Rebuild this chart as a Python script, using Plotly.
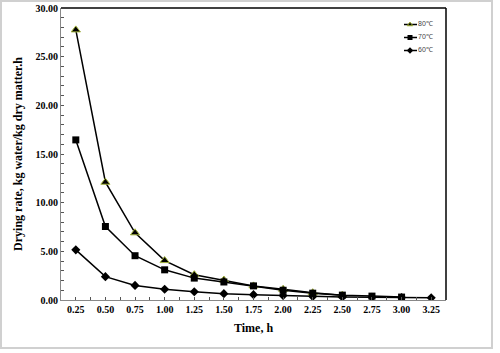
import plotly.graph_objects as go

time_80 = [0.25, 0.50, 0.75, 1.00, 1.25, 1.50, 1.75, 2.00, 2.25, 2.50]
rate_80 = [27.75, 12.10, 6.90, 4.05, 2.60, 2.05, 1.45, 1.10, 0.75, 0.50]

time_70 = [0.25, 0.50, 0.75, 1.00, 1.25, 1.50, 1.75, 2.00, 2.25, 2.50, 2.75, 3.00]
rate_70 = [16.45, 7.55, 4.55, 3.10, 2.25, 1.85, 1.45, 1.00, 0.70, 0.50, 0.40, 0.30]

time_60 = [0.25, 0.50, 0.75, 1.00, 1.25, 1.50, 1.75, 2.00, 2.25, 2.50, 2.75, 3.00, 3.25]
rate_60 = [5.15, 2.40, 1.50, 1.10, 0.85, 0.65, 0.55, 0.45, 0.35, 0.30, 0.28, 0.25, 0.22]

x_ticks = [0.25, 0.50, 0.75, 1.00, 1.25, 1.50, 1.75, 2.00, 2.25, 2.50, 2.75, 3.00, 3.25]
series_names = ["80℃", "70℃", "60℃"]

serif = "Liberation Serif, Times New Roman, serif"

styles = [
    dict(symbol="triangle-up", size=8, color="black", line=dict(color="#a4b43c", width=1)),
    dict(symbol="square", size=7, color="black"),
    dict(symbol="diamond", size=7, color="black"),
]
legend_styles = [
    dict(symbol="triangle-up", size=5, color="black", line=dict(color="#a4b43c", width=1)),
    dict(symbol="square", size=5, color="black"),
    dict(symbol="diamond", size=5, color="black"),
]

fig = go.Figure()
for xs, ys, name, st in zip([time_80, time_70, time_60], [rate_80, rate_70, rate_60],
                            series_names, styles):
    fig.add_trace(go.Scatter(
        x=xs, y=ys, name=name, mode="lines+markers",
        line=dict(color="black", width=1.5), marker=st, showlegend=False))

# plot area pixels: x 61..446, y 8..300
L, R, T, B = 61, 446, 8, 300
W, H = R - L, B - T
def px(p):
    return (p - L) / W
def py(p):
    return (B - p) / H

# manual legend on an overlay axis measured in pixels
leg_y = [24.5, 37.5, 50.5]
for yy, name, st in zip(leg_y, series_names, legend_styles):
    fig.add_trace(go.Scatter(
        x=[404, 410, 417], y=[yy, yy, yy], mode="lines", xaxis="x2", yaxis="y2",
        line=dict(color="black", width=1.5), showlegend=False, hoverinfo="skip"))
    fig.add_trace(go.Scatter(
        x=[410], y=[yy], mode="markers", xaxis="x2", yaxis="y2",
        marker=st, showlegend=False, hoverinfo="skip"))
    fig.add_trace(go.Scatter(
        x=[418], y=[yy], mode="text", xaxis="x2", yaxis="y2",
        text=[name], textposition="middle right",
        textfont=dict(family="Liberation Sans, Arial, sans-serif", size=7, color="#444"),
        showlegend=False, hoverinfo="skip"))

fig.update_layout(
    width=500, height=353,
    margin=dict(l=L, r=500 - R, t=T, b=353 - B, autoexpand=False),
    paper_bgcolor="white", plot_bgcolor="white",
    showlegend=False,
    xaxis=dict(
        range=[0.125, 3.375], tickvals=x_ticks, ticktext=[f"{v:.2f}" for v in x_ticks],
        ticks="inside", ticklen=3, tickcolor="#555", automargin=False,
        minor=dict(dtick=0.125, tick0=0.125, ticks="inside", ticklen=3, tickcolor="#555"),
        showgrid=False, zeroline=False, showline=True, linecolor="#888", linewidth=1,
        tickfont=dict(family=serif, size=10, color="black", weight="bold"),
        title=dict(text="<b>Time, h</b>", font=dict(family=serif, size=12, color="black"), standoff=9),
    ),
    yaxis=dict(
        range=[0, 30], dtick=5, tickformat=".2f",
        ticks="inside", ticklen=3, tickcolor="#555", automargin=False,
        minor=dict(dtick=1, ticks="inside", ticklen=3, tickcolor="#555"),
        showgrid=False, zeroline=False, showline=True, linecolor="#888", linewidth=1,
        tickfont=dict(family=serif, size=10, color="black", weight="bold"),
        title=dict(text="<b>Drying rate, kg water/kg dry matter.h</b>",
                   font=dict(family=serif, size=12, color="black"), standoff=10),
    ),
    xaxis2=dict(overlaying="x", range=[L, R], visible=False, fixedrange=True),
    yaxis2=dict(overlaying="y", range=[B, T], visible=False, fixedrange=True),
    shapes=[
        dict(type="line", xref="paper", yref="paper", x0=0, x1=1, y0=1, y1=1,
             line=dict(color="black", width=1.5)),
        dict(type="line", xref="paper", yref="paper", x0=1, x1=1, y0=0, y1=1,
             line=dict(color="black", width=1.5)),
        dict(type="rect", xref="paper", yref="paper", x0=px(1), x1=px(492), y0=py(348), y1=py(1),
             line=dict(color="#d0d0d0", width=2)),
    ],
)

fig.write_html("out.html", config={"displayModeBar": False},
               post_script="document.body.style.margin='0';")
